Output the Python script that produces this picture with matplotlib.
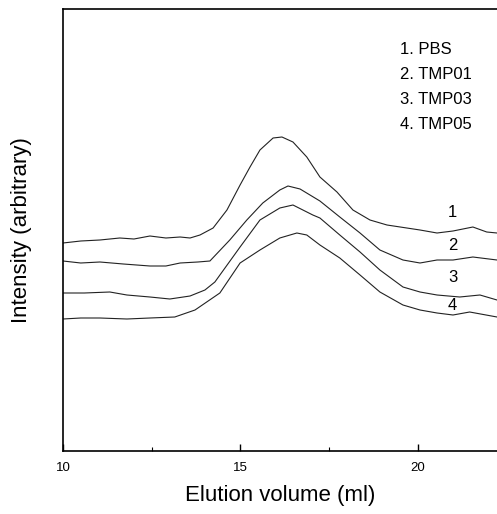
import numpy as np
import matplotlib
matplotlib.use("Agg")
import matplotlib.pyplot as plt
from matplotlib.ticker import MultipleLocator

plt.rcParams['font.family'] = ['Liberation Sans', 'DejaVu Sans']

# elution volume (ml) and intensity (arbitrary units)
vol_1 = [10.00, 10.50, 11.04, 11.60, 12.00, 12.45, 12.90, 13.30, 13.58, 13.86, 14.23, 14.62,
         14.99, 15.27, 15.55, 15.92, 16.17, 16.48, 16.87, 17.24, 17.72, 18.17, 18.65, 19.13,
         20.06, 20.54, 20.99, 21.55, 21.94, 22.23]
pbs = [208, 210, 211, 213, 212, 215, 213, 214, 213, 216, 223, 241,
       266, 284, 301, 313, 314, 309, 294, 274, 259, 241, 231, 226,
       221, 218, 220, 224, 219, 218]

vol_2 = [10.00, 10.50, 11.04, 11.70, 12.45, 12.90, 13.30, 13.80, 14.14, 14.70, 15.18, 15.63,
         16.11, 16.34, 16.68, 17.24, 17.80, 18.37, 18.93, 19.58, 20.06, 20.54, 20.99, 21.55, 22.23]
tmp01 = [190, 188, 189, 187, 185, 185, 188, 189, 190, 211, 231, 248,
         261, 265, 262, 250, 234, 218, 201, 191, 188, 191, 191, 194, 191]

vol_3 = [10.00, 10.60, 11.32, 11.80, 12.45, 13.01, 13.58, 14.00, 14.28, 14.99, 15.55, 16.11,
         16.48, 17.04, 17.24, 17.80, 18.37, 18.93, 19.58, 20.06, 20.54, 21.18, 21.75, 22.23]
tmp03 = [158, 158, 159, 156, 154, 152, 155, 161, 169, 204, 231, 243,
         246, 236, 233, 216, 199, 181, 164, 159, 156, 154, 156, 151]

vol_4 = [10.00, 10.50, 11.04, 11.80, 12.45, 13.15, 13.72, 14.42, 14.99, 15.55, 16.11, 16.59,
         16.87, 17.24, 17.80, 18.37, 18.93, 19.58, 20.06, 20.54, 20.99, 21.46, 22.23]
tmp05 = [132, 133, 133, 132, 133, 134, 141, 158, 188, 201, 213, 218,
         216, 206, 193, 176, 159, 146, 141, 138, 136, 139, 134]

legend_lines = ["1. PBS", "2. TMP01", "3. TMP03", "4. TMP05"]
curve_tags = ["1", "2", "3", "4"]
tag_y = [238, 205, 174, 145]

fig = plt.figure(figsize=(4.97, 5.14), dpi=100)
ax = fig.add_axes([63 / 497, 63 / 514, 1 - 63 / 497, 442 / 514])

for v, s in [(vol_1, pbs), (vol_2, tmp01), (vol_3, tmp03), (vol_4, tmp05)]:
    ax.plot(v, s, color="#222222", lw=0.8)

ax.set_xlim(10, 22.23)
ax.set_ylim(0, 442)
ax.xaxis.set_major_locator(MultipleLocator(5))
ax.xaxis.set_minor_locator(MultipleLocator(2.5))
ax.set_yticks([])
ax.tick_params(axis="x", which="major", direction="in", length=5, width=1, labelsize=9.5, pad=8)
ax.tick_params(axis="x", which="minor", direction="in", length=3, width=0.8)
ax.spines["right"].set_visible(False)
for side in ["left", "bottom", "top"]:
    ax.spines[side].set_linewidth(1.2)

ax.set_xlabel("Elution volume (ml)", fontsize=16, labelpad=8)
ax.set_ylabel("Intensity (arbitrary)", fontsize=16, labelpad=22)

for i, t in enumerate(legend_lines):
    ax.text(19.49, 401 - i * 25, t, fontsize=12, va="center", ha="left")
for t, y in zip(curve_tags, tag_y):
    ax.text(20.98, y, t, fontsize=12, va="center", ha="center")

fig.savefig("out.png", dpi=100)
